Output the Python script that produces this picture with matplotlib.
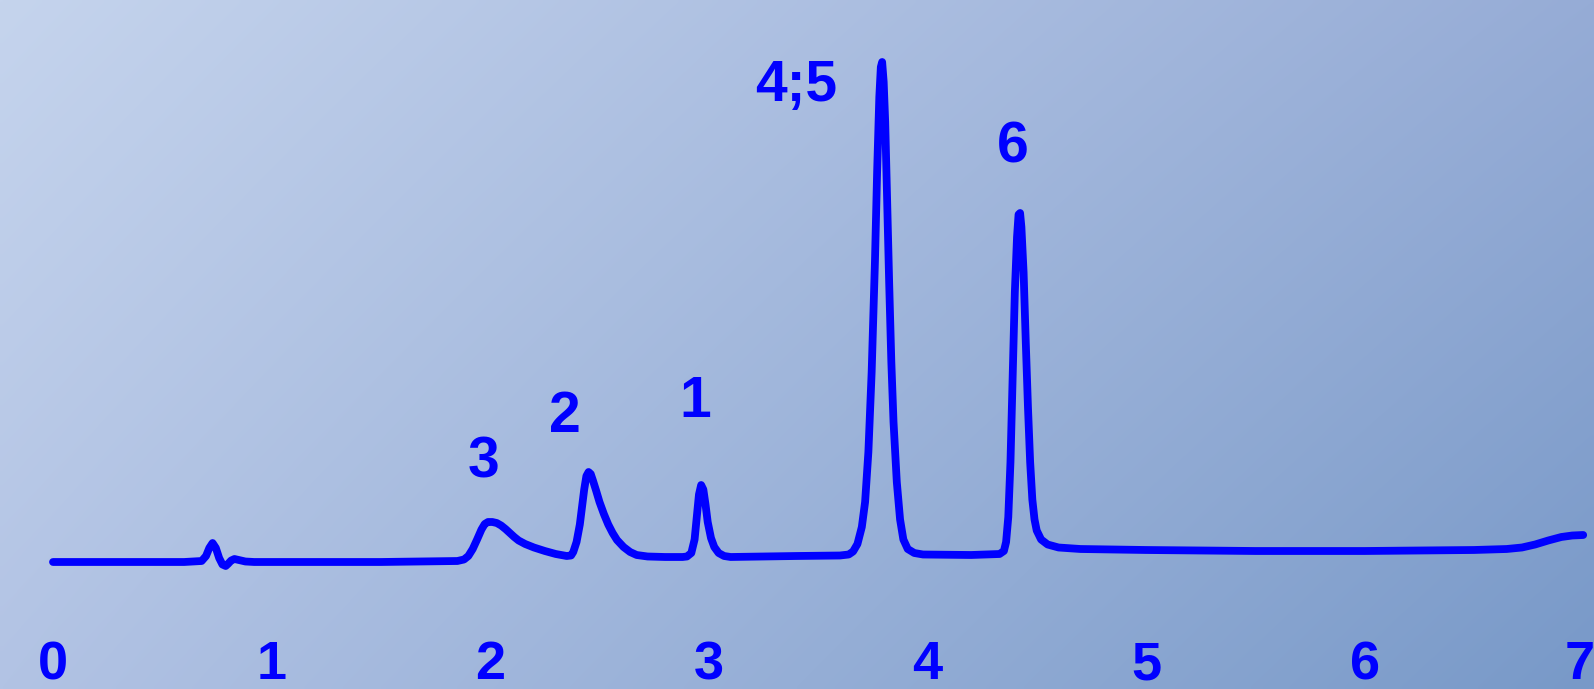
import numpy as np
import matplotlib
matplotlib.use("Agg")
import matplotlib.pyplot as plt
from matplotlib import font_manager

# ---- data (time in min, signal in arbitrary units) ----
time = [0.00, 0.30, 0.60, 0.68, 0.70, 0.715, 0.73, 0.745, 0.76, 0.775, 0.79, 0.80,
        0.815, 0.83, 0.85, 0.88, 0.92, 1.20, 1.50, 1.85, 1.88, 1.90, 1.92, 1.94, 1.96,
        1.975, 1.99, 2.01, 2.03, 2.05, 2.07, 2.09, 2.11, 2.13, 2.16, 2.20, 2.25, 2.30,
        2.35, 2.37, 2.38, 2.395, 2.41, 2.42, 2.43, 2.44, 2.45, 2.46, 2.47, 2.485, 2.50,
        2.52, 2.54, 2.56, 2.58, 2.61, 2.64, 2.67, 2.72, 2.80, 2.88, 2.90, 2.92, 2.935,
        2.945, 2.955, 2.965, 2.975, 2.985, 2.995, 3.01, 3.025, 3.045, 3.07, 3.10, 3.40,
        3.60, 3.64, 3.66, 3.68, 3.70, 3.715, 3.73, 3.745, 3.76, 3.77, 3.78, 3.787, 3.793,
        3.80, 3.807, 3.815, 3.825, 3.835, 3.845, 3.86, 3.875, 3.89, 3.91, 3.94, 3.98,
        4.20, 4.33, 4.35, 4.36, 4.37, 4.38, 4.39, 4.40, 4.41, 4.417, 4.424, 4.43, 4.44,
        4.45, 4.46, 4.47, 4.48, 4.49, 4.50, 4.52, 4.55, 4.60, 4.70, 5.00, 5.50, 6.00,
        6.50, 6.65, 6.72, 6.78, 6.84, 6.90, 6.95, 7.00]
signal = [0.0, 0.0, 0.0, 0.2, 1.2, 2.8, 3.8, 2.8, 0.8, -0.5, -0.8, -0.4,
          0.3, 0.6, 0.4, 0.1, 0.0, 0.0, 0.0, 0.2, 0.5, 1.2, 2.6, 4.5, 6.5,
          7.6, 8.0, 8.0, 7.8, 7.3, 6.6, 5.8, 5.0, 4.3, 3.6, 2.9, 2.2, 1.6,
          1.2, 1.3, 2.0, 4.0, 7.5, 11.0, 14.5, 17.2, 18.0, 17.6, 16.3, 14.2, 12.0,
          9.6, 7.5, 5.8, 4.4, 3.0, 2.0, 1.4, 1.1, 1.0, 1.0, 1.1, 1.8, 4.5,
          9.0, 13.5, 15.4, 14.5, 11.5, 8.0, 4.8, 3.0, 1.8, 1.2, 1.0, 1.2,
          1.3, 1.5, 2.1, 3.6, 7.0, 12.0, 22.0, 38.0, 60.0, 78.0, 93.0, 99.0, 100.0,
          96.0, 88.0, 74.0, 56.0, 40.0, 28.0, 16.0, 8.5, 4.5, 2.6, 1.8, 1.5,
          1.4, 1.6, 2.2, 4.0, 9.0, 20.0, 37.0, 54.0, 65.0, 69.5, 69.8, 67.0, 58.0,
          44.0, 31.0, 20.0, 12.5, 8.5, 6.3, 4.5, 3.5, 2.9, 2.6, 2.4, 2.2, 2.2,
          2.4, 2.6, 2.9, 3.5, 4.3, 5.0, 5.3, 5.4]

peak_labels = ["3", "2", "1", "4;5", "6"]
peak_label_x = [1.97, 2.34, 2.94, 3.40, 4.39]
peak_label_y = [20.0, 29.0, 32.0, 95.2, 83.0]

tick_values = [0, 1, 2, 3, 4, 5, 6, 7]
tick_labels = ["0", "1", "2", "3", "4", "5", "6", "7"]

# ---- figure ----
W, H, DPI = 1594, 689, 100
fig = plt.figure(figsize=(W / DPI, H / DPI), dpi=DPI)

# background gradient (diagonal, light top-left to darker bottom-right)
bg = fig.add_axes([0, 0, 1, 1], zorder=0)
tl = np.array([197, 212, 237]) / 255.0
tr = np.array([150, 172, 214]) / 255.0
bl = np.array([178, 195, 228]) / 255.0
br = np.array([120, 153, 200]) / 255.0
u = np.linspace(0, 1, 300)[None, :, None]
v = np.linspace(0, 1, 150)[:, None, None]
grad = (1 - v) * ((1 - u) * tl + u * tr) + v * ((1 - u) * bl + u * br)
bg.imshow(grad, extent=[0, 1, 0, 1], aspect="auto", interpolation="bilinear",
          origin="upper")
bg.set_axis_off()

ax = fig.add_axes([0, 0, 1, 1], zorder=1)
ax.patch.set_alpha(0)
ax.set_axis_off()
x0_px, px_per_min = 53.0, 218.6
ax.set_xlim(-x0_px / px_per_min, (W - x0_px) / px_per_min)
base_px, px_per_unit = 562.0, 5.0
ax.set_ylim((base_px - H) / px_per_unit, base_px / px_per_unit)

ax.plot(time, signal, color="#0000ff", lw=5.6, solid_joinstyle="round",
        solid_capstyle="round", zorder=3)

avail = {f.name for f in font_manager.fontManager.ttflist}
narrow = "Liberation Sans Narrow" if "Liberation Sans Narrow" in avail else "Liberation Sans"

for lab, x, y in zip(peak_labels, peak_label_x, peak_label_y):
    ax.text(x, y, lab, ha="center", va="center", fontsize=41, fontweight="bold",
            family=["Liberation Sans", "DejaVu Sans"], color="#0000ff", zorder=4)

for val, lab in zip(tick_values, tick_labels):
    ax.text(min(val, 6.985), -20.6, lab, ha="center", va="center", fontsize=39,
            fontweight="bold", family=[narrow, "DejaVu Sans"], color="#0000ff", zorder=4)

fig.savefig("out.png", dpi=DPI)
